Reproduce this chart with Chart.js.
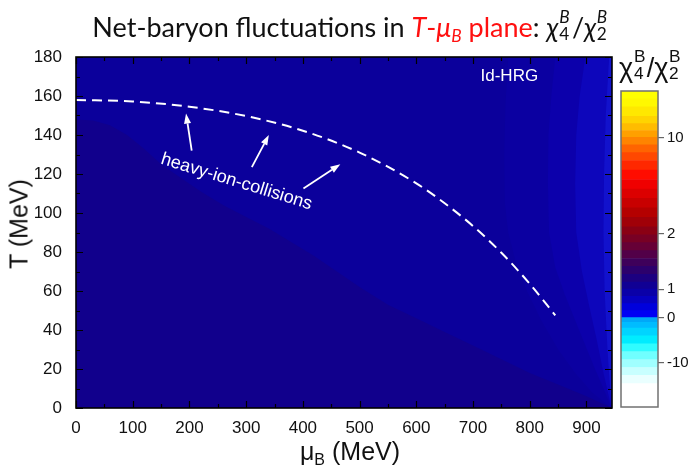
<!DOCTYPE html>
<html>
<head>
<meta charset="utf-8">
<title>Net-baryon fluctuations</title>
<script src="https://cdn.jsdelivr.net/npm/chart.js@4.4.1/dist/chart.umd.min.js"></script>
<style>
  html, body { margin: 0; padding: 0; background: #fff; }
  #page { position: relative; width: 693px; height: 469px; overflow: hidden; font-family: "Liberation Sans", Arial, sans-serif; color: #111; }
  canvas { position: absolute; }
  #plot { left: 0; top: 0; }
  #cbar { left: 600px; top: 60px; }
  .txt { position: absolute; white-space: nowrap; line-height: 1; }
  #title { left: 0; top: 10px; width: 702px; text-align: center; font-family: Lato, "Noto Sans", sans-serif; font-size: 27px; }
  #title .red { color: #ff1010; }
  .it { font-style: italic; }
  .ss { display: inline-block; position: relative; width: 0.5em; height: 1em; }
  .ss .up, .ss .dn { position: absolute; left: 0.04em; font-size: 0.64em; line-height: 1; }
  .ss .up { top: -0.14em; }
  .ss .dn { bottom: -0.32em; }
  .sb { font-size: 0.64em; position: relative; top: 0.3em; }
  #ytitle { left: 19px; top: 224px; font-size: 25px; transform: translate(-50%, -50%) rotate(-90deg); }
  #xtitle { left: 350px; top: 451px; font-size: 25px; transform: translate(-50%, -50%); }
  #cbtitle { left: 619px; top: 50px; font-size: 27px; }
</style>
</head>
<body>
<div id="page">
  <canvas id="plot" width="693" height="469"></canvas>
  <canvas id="cbar" width="93" height="360"></canvas>
  <div id="title" class="txt">Net-baryon fluctuations in <span class="red"><span class="it">T</span>-<span class="it">μ</span><span class="sb it">B</span> plane</span>: <span class="it">χ</span><span class="ss"><span class="up it">B</span><span class="dn">4</span></span>/<span class="it">χ</span><span class="ss"><span class="up it">B</span><span class="dn">2</span></span></div>
  <div id="ytitle" class="txt">T (MeV)</div>
  <div id="xtitle" class="txt">μ<span class="sb">B</span> (MeV)</div>
  <div id="cbtitle" class="txt">χ<span class="ss"><span class="up">B</span><span class="dn">4</span></span>/χ<span class="ss"><span class="up">B</span><span class="dn">2</span></span></div>
</div>
<script>
// axis ticks and ranges
const muTicks = [0, 100, 200, 300, 400, 500, 600, 700, 800, 900];
const tempTicks = [0, 20, 40, 60, 80, 100, 120, 140, 160, 180];
const muRange = [0, 945];
const tempRange = [0, 180];

// lower (darker) contour band, upper edge T(muB)
const lowMu = [0, 30, 60, 90, 120, 150, 180, 220, 260, 300, 340, 380, 420, 460, 500, 550, 600, 650, 700, 750, 800, 850, 900, 945];
const lowT = [148, 147.5, 145, 140, 133, 125, 119, 111, 104, 98, 92, 85, 78, 70, 62, 53, 46, 39, 32, 25, 18, 12, 6, 0];

// contour bands towards large muB, left edge traced from the top down
const bandAMu = [762, 757, 755, 756, 762, 775, 795, 820, 850, 880, 910, 944];
const bandAT = [180, 155, 130, 105, 90, 75, 60, 45, 30, 18, 8, 0];
const bandBMu = [845, 838, 833, 832, 834, 845, 862, 880, 898, 915, 930, 944];
const bandBT = [180, 160, 140, 115, 90, 72, 58, 45, 32, 20, 10, 0];
const bandCMu = [898, 888, 882, 880, 882, 892, 905, 918, 930, 944];
const bandCT = [180, 160, 140, 115, 90, 70, 52, 35, 18, 0];
const bandDMu = [940, 934, 931, 930, 932, 937, 944];
const bandDT = [180, 150, 120, 90, 60, 30, 0];

// chemical freeze-out line
const freezeMu = [0, 100, 200, 300, 400, 500, 600, 650, 700, 750, 800, 845];
const freezeT = [158, 157.2, 154.5, 149.7, 142.2, 131, 115.2, 105, 93.3, 79.6, 63.7, 47.5];

// arrows pointing at the freeze-out line
const arrowTailMu = [204, 310, 401];
const arrowTailT = [132, 123.5, 112.6];
const arrowHeadMu = [194, 340, 466];
const arrowHeadT = [151, 140, 125];

// colour bar: lower edge of each colour step (bar position 0..100) and tick marks
const cbEdges = [0, 7.4, 10, 12.5, 15, 17.5, 20, 22.5, 25, 26.8, 28.3, 30.5, 32.7, 35, 37.3, 39.5, 42, 44.5, 47, 49.5, 52, 54.5, 57, 60, 63, 66, 69, 72, 75, 78, 80.5, 83, 85.3, 87.5, 89.7, 92, 95, 97.5];
const cbColors = ['#ffffff', '#eaffff', '#c8ffff', '#a0ffff', '#70ffff', '#30fcff', '#00ecff', '#00d4ff', '#00bcff', '#00a8f8',
  '#0000f4', '#0000dc', '#0600c0', '#0a00a8', '#100094', '#1c0080', '#2c006c', '#3e005a', '#520048', '#660036',
  '#780024', '#8a0014', '#a00008', '#b40000', '#c80000', '#dc0000', '#f00000', '#ff0c00', '#ff2800', '#ff4800',
  '#ff6400', '#ff8400', '#ffa000', '#ffbc00', '#ffd400', '#ffe800', '#fff800', '#ffff00'];
const cbTickPos = [14.1, 28.3, 37.3, 54.9, 85.1];
const cbTickLabels = ['-10', '0', '1', '2', '10'];

const FONT = '"Liberation Sans", Arial, sans-serif';
Chart.defaults.font.family = FONT;
Chart.defaults.color = '#111';

function pts(mu, t) {
  return mu.map((m, i) => ({x: m, y: t[i]}));
}

// closed area right of a band edge; starts on the top edge at the leftmost x
function bandShape(mu, t) {
  return [{x: Math.min(...mu), y: tempRange[1]}, ...pts(mu, t),
    {x: muRange[1], y: tempRange[0]}, {x: muRange[1], y: tempRange[1]}];
}

function region(points, color, order) {
  return {
    data: points,
    backgroundColor: color,
    borderColor: 'rgba(0,0,0,0)',
    borderWidth: 0,
    pointRadius: 0,
    tension: 0,
    fill: 'shape',
    order: order
  };
}

const labelHic = {mu: 283, t: 116, angle: 17};
const labelHrg = {mu: 764, t: 170};

const overlay = {
  id: 'overlay',
  afterDatasetsDraw(chart) {
    const {ctx, chartArea: a} = chart;
    const xs = chart.scales.x, ys = chart.scales.y;
    ctx.save();

    // arrows
    ctx.strokeStyle = '#fff';
    ctx.fillStyle = '#fff';
    ctx.lineWidth = 1.8;
    arrowTailMu.forEach((m, i) => {
      const x0 = xs.getPixelForValue(m), y0 = ys.getPixelForValue(arrowTailT[i]);
      const x1 = xs.getPixelForValue(arrowHeadMu[i]), y1 = ys.getPixelForValue(arrowHeadT[i]);
      const ang = Math.atan2(y1 - y0, x1 - x0);
      const hl = 10, hw = 3.5;
      const bx = x1 - hl * Math.cos(ang), by = y1 - hl * Math.sin(ang);
      ctx.beginPath();
      ctx.moveTo(x0, y0);
      ctx.lineTo(bx, by);
      ctx.stroke();
      ctx.beginPath();
      ctx.moveTo(x1, y1);
      ctx.lineTo(bx + hw * Math.sin(ang), by - hw * Math.cos(ang));
      ctx.lineTo(bx - hw * Math.sin(ang), by + hw * Math.cos(ang));
      ctx.closePath();
      ctx.fill();
    });

    // text inside the plot
    ctx.textAlign = 'center';
    ctx.textBaseline = 'middle';
    ctx.font = '18px ' + FONT;
    ctx.save();
    ctx.translate(xs.getPixelForValue(labelHic.mu), ys.getPixelForValue(labelHic.t));
    ctx.rotate(labelHic.angle * Math.PI / 180);
    ctx.fillText('heavy-ion-collisions', 0, 0);
    ctx.restore();
    ctx.font = '17px ' + FONT;
    ctx.fillText('Id-HRG', xs.getPixelForValue(labelHrg.mu), ys.getPixelForValue(labelHrg.t));

    // frame with inward ticks on all four sides
    ctx.strokeStyle = '#000';
    ctx.lineWidth = 1.2;
    const tick = (vals, len, horiz) => {
      vals.forEach(v => {
        ctx.beginPath();
        if (horiz) {
          const px = Math.round(xs.getPixelForValue(v)) + 0.5;
          ctx.moveTo(px, a.bottom); ctx.lineTo(px, a.bottom - len);
          ctx.moveTo(px, a.top); ctx.lineTo(px, a.top + len);
        } else {
          const py = Math.round(ys.getPixelForValue(v)) + 0.5;
          ctx.moveTo(a.left, py); ctx.lineTo(a.left + len, py);
          ctx.moveTo(a.right, py); ctx.lineTo(a.right - len, py);
        }
        ctx.stroke();
      });
    };
    const mid = arr => arr.map(v => v + (arr[1] - arr[0]) / 2);
    tick(muTicks, 7, true);
    tick(mid(muTicks).filter(v => v < muRange[1]), 4, true);
    tick(tempTicks, 7, false);
    tick(mid(tempTicks).filter(v => v < tempRange[1]), 4, false);
    ctx.lineWidth = 1.6;
    ctx.strokeRect(a.left, a.top, a.right - a.left, a.bottom - a.top);
    ctx.restore();
  }
};

new Chart(document.getElementById('plot'), {
  type: 'line',
  data: {
    datasets: [
      {
        data: pts(freezeMu, freezeT),
        borderColor: '#ffffff',
        borderWidth: 2,
        borderDash: [10, 6],
        pointRadius: 0,
        fill: false,
        cubicInterpolationMode: 'monotone',
        order: 1
      },
      region(bandShape(bandDMu, bandDT), '#1212cc', 2),
      region(bandShape(bandCMu, bandCT), '#0d06bb', 3),
      region(bandShape(bandBMu, bandBT), '#0c00ab', 4),
      region(bandShape(bandAMu, bandAT), '#0b00a1', 5),
      region([{x: muRange[0], y: tempRange[0]}, ...pts(lowMu, lowT)], '#11008c', 6),
      region([{x: muRange[0], y: tempRange[0]}, {x: muRange[0], y: tempRange[1]},
        {x: muRange[1], y: tempRange[1]}, {x: muRange[1], y: tempRange[0]}], '#0b009b', 7)
    ]
  },
  options: {
    responsive: false,
    animation: false,
    layout: {padding: {left: 30, top: 57, right: 81, bottom: 31}},
    plugins: {legend: {display: false}, tooltip: {enabled: false}},
    scales: {
      x: {
        type: 'linear',
        min: muRange[0],
        max: muRange[1],
        afterBuildTicks: s => { s.ticks = muTicks.map(v => ({value: v})); },
        afterFit: s => { s.height = 30; },
        ticks: {font: {size: 17}, padding: 2, maxRotation: 0},
        grid: {display: false},
        border: {display: false}
      },
      y: {
        type: 'linear',
        min: tempRange[0],
        max: tempRange[1],
        afterBuildTicks: s => { s.ticks = tempTicks.map(v => ({value: v})); },
        afterFit: s => { s.width = 46; },
        ticks: {font: {size: 17}, padding: 6},
        grid: {display: false},
        border: {display: false}
      }
    }
  },
  plugins: [overlay]
});

// colour bar
const cbFrame = {
  id: 'cbFrame',
  afterDraw(chart) {
    const {ctx, chartArea: a} = chart;
    ctx.save();
    ctx.strokeStyle = '#707070';
    ctx.lineWidth = 1.5;
    ctx.strokeRect(a.left, a.top, a.right - a.left, a.bottom - a.top);
    ctx.restore();
  }
};

new Chart(document.getElementById('cbar'), {
  type: 'bar',
  data: {
    labels: [''],
    datasets: cbColors.map((c, i) => ({
      data: [(i < cbEdges.length - 1 ? cbEdges[i + 1] : 100) - cbEdges[i]],
      backgroundColor: c,
      borderWidth: 0,
      barPercentage: 1,
      categoryPercentage: 1
    }))
  },
  options: {
    responsive: false,
    animation: false,
    layout: {padding: {left: 21, top: 31, right: 0, bottom: 13}},
    plugins: {legend: {display: false}, tooltip: {enabled: false}},
    scales: {
      x: {display: false, stacked: true},
      y: {
        stacked: true,
        position: 'right',
        min: 0,
        max: 100,
        afterBuildTicks: s => { s.ticks = cbTickPos.map(v => ({value: v})); },
        afterFit: s => { s.width = 35; },
        ticks: {callback: (v, i) => cbTickLabels[i], font: {size: 15}, padding: 3},
        grid: {drawOnChartArea: false, tickLength: 6, color: '#666', lineWidth: 1.2},
        border: {display: false}
      }
    }
  },
  plugins: [cbFrame]
});
</script>
</body>
</html>
